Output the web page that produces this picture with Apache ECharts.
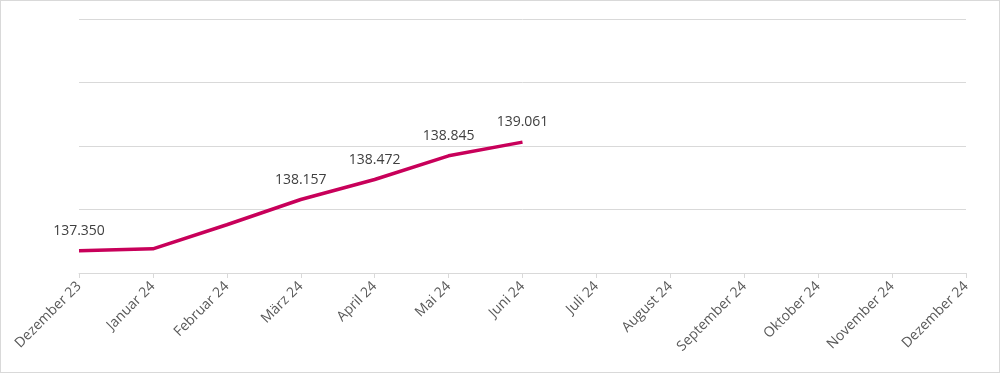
<!DOCTYPE html>
<html><head><meta charset="utf-8">
<script src="https://cdn.jsdelivr.net/npm/echarts@6/dist/echarts.min.js"></script>
<style>html,body{margin:0;padding:0;background:#fff}#c{width:1000px;height:373px;box-sizing:border-box;border:1px solid #d9d9d9}</style>
</head><body><div id="c"></div>
<script>
const categories = ["Dezember 23","Januar 24","Februar 24","März 24","April 24","Mai 24","Juni 24","Juli 24","August 24","September 24","Oktober 24","November 24","Dezember 24"];
const values = [137.350, 137.38, 137.76, 138.157, 138.472, 138.845, 139.061];
const showLabel = [true, false, false, true, true, true, true];
const chart = echarts.init(document.getElementById('c'));
const fmt = v => v.toFixed(3);
chart.setOption({
  animation: false,
  grid: {left: 78, right: 33, top: 18, bottom: 99},
  xAxis: {
    type: 'category', data: categories, boundaryGap: false,
    axisLine: {lineStyle: {color: '#d9d9d9', width: 1}},
    axisTick: {show: true, length: 5, lineStyle: {color: '#d9d9d9'}},
    axisLabel: {rotate: 45, color: '#595959', fontSize: 14, fontFamily: 'Open Sans', margin: 11, interval: 0}
  },
  yAxis: {
    type: 'value', min: 137, max: 141, interval: 1,
    axisLabel: {show: false}, axisLine: {show: false}, axisTick: {show: false},
    splitLine: {lineStyle: {color: '#d9d9d9', width: 1}}
  },
  series: [{
    type: 'line',
    data: values,
    symbol: 'circle', symbolSize: 2, showSymbol: true, showAllSymbol: true,
    itemStyle: {color: 'rgba(200,0,90,0)', borderWidth: 0},
    lineStyle: {color: '#c8005a', width: 3.5},
    label: {show: true, position: 'top', distance: 12, color: '#404040', fontSize: 14, fontFamily: 'Open Sans',
      formatter: p => showLabel[p.dataIndex] ? fmt(p.value) : ''}
  }]
});
</script></body></html>
